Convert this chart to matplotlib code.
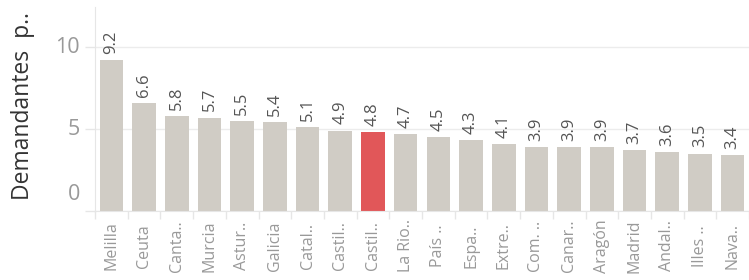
import matplotlib
matplotlib.use("Agg")
import matplotlib.pyplot as plt
import matplotlib.transforms as mtransforms

categories = ["Melilla", "Ceuta", "Canta..", "Murcia", "Astur..", "Galicia", "Catal..",
              "Castil..", "Castil..", "La Rio..", "País ..", "Espa..", "Extre..", "Com. ..",
              "Canar..", "Aragón", "Madrid", "Andal..", "Illes ..", "Nava.."]
values = [9.2, 6.6, 5.8, 5.7, 5.5, 5.4, 5.1, 4.9, 4.8, 4.7, 4.5, 4.3, 4.1, 3.9, 3.9,
          3.9, 3.7, 3.6, 3.5, 3.4]
highlight_index = 8
y_ticks = [0, 5, 10]
y_label = "Demandantes  p.."

plt.rcParams['font.family'] = ['Open Sans', 'DejaVu Sans']

fig = plt.figure(figsize=(7.49, 2.8), dpi=100)
ax = fig.add_axes([95/749, 69/280, 1 - 95/749, (211-7)/280])

gray = "#d0ccc5"
red = "#e15759"
colors = [red if i == highlight_index else gray for i in range(len(values))]
x = list(range(len(values)))
ax.bar(x, values, width=0.72, color=colors, zorder=2)

for xi, v in zip(x, values):
    ax.annotate(f"{v:.1f}", (xi, v), xytext=(0, 4.5), textcoords="offset points",
                rotation=90, ha="center", va="bottom", fontsize=12, color="#555555")

ax.set_xlim(-0.5, 19.28)
ax.set_ylim(0, 12.44)
ax.set_yticks(y_ticks)
ax.set_yticklabels([])
ax.tick_params(axis="y", length=7, width=1, color="#e6e6e6")
ax.grid(axis="y", color="#ececec", linewidth=1, zorder=0)

for t in y_ticks:
    dy = 16/100 if t == 0 else 0
    tr = ax.get_yaxis_transform() + mtransforms.ScaledTranslation(-15/100, dy, fig.dpi_scale_trans)
    ax.text(0, t, str(t), transform=tr, ha="right", va="center", fontsize=15.5,
            color="#999999", clip_on=False)

ax.set_xticks(x)
ax.set_xticklabels([])
ax.tick_params(axis="x", which="major", length=0)
ax.set_xticks([i - 0.5 for i in range(len(values) + 1)], minor=True)
ax.tick_params(axis="x", which="minor", length=6, width=1, color="#e6e6e6")

trans = mtransforms.blended_transform_factory(ax.transData, fig.transFigure)
for xi, lab in zip(x, categories):
    ax.text(xi, 1 - 246/280, lab, transform=trans, rotation=90, ha="center", va="center",
            fontsize=11.5, color="#999999", clip_on=False)

for s in ["top", "right"]:
    ax.spines[s].set_visible(False)
ax.spines["left"].set_color("#e6e6e6")
ax.spines["bottom"].set_color("#e6e6e6")

fig.text(23/749, 1 - 106/280, y_label, rotation=90, ha="center", va="center",
         fontsize=16.5, color="#333333")

fig.savefig("out.png", dpi=100)
